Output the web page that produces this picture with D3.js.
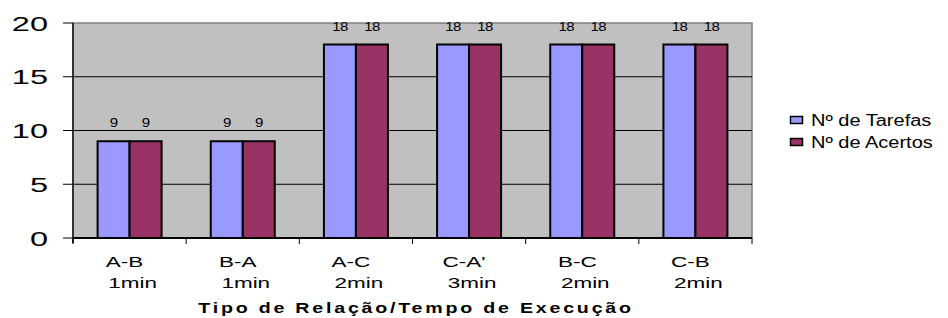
<!DOCTYPE html>
<html>
<head>
<meta charset="utf-8">
<script src="https://cdn.jsdelivr.net/npm/d3@7"></script>
<style>
  body { margin: 0; background: #fff; }
  svg { display: block; font-family: "Liberation Sans", Arial, sans-serif; }
</style>
</head>
<body>
<div class="canvas"></div>
<script>
var width = 948,
   height = 318;

// data
var categories = ['A-B|1min', 'B-A|1min', 'A-C|2min', "C-A'|3min", 'B-C|2min', 'C-B|2min'];
var tarefas = [9, 9, 18, 18, 18, 18];
var acertos = [9, 9, 18, 18, 18, 18];
var seriesNames = ['Nº de Tarefas', 'Nº de Acertos'];
var yTicks = [0, 5, 10, 15, 20];

var colors = ['#9999ff', '#993366'];

var plot = {left: 73, right: 752, top: 23, bottom: 238};

var svg = d3.select('.canvas')
   .append('svg')
   .attr('width', width)
   .attr('height', height);

var x = d3.scaleBand()
   .domain(categories)
   .range([plot.left, plot.right]);

var y = d3.scaleLinear()
   .domain([0, 20])
   .range([plot.bottom, plot.top]);

// the original picture is stretched sideways, so text is too
function stretch(sx) {
   return function (px, py) {
      return 'translate(' + px + ',' + py + ') scale(' + sx + ',1)';
   };
}

// background
svg.append('rect')
   .attr('x', plot.left)
   .attr('y', plot.top)
   .attr('width', plot.right - plot.left)
   .attr('height', plot.bottom - plot.top)
   .attr('fill', '#c0c0c0')
   .attr('stroke', '#808080')
   .attr('stroke-width', 1.5);

// gridlines
svg.append('g')
   .selectAll('line')
   .data(yTicks.filter(d => d > 0 && d < 20))
   .enter().append('line')
      .attr('x1', plot.left)
      .attr('x2', plot.right)
      .attr('y1', d => y(d))
      .attr('y2', d => y(d))
      .attr('stroke', '#000')
      .attr('stroke-width', 1);

// bars
var groupW = x.bandwidth();
var barW = 32;
var series = [tarefas, acertos];
var labelT = stretch(1.2);

series.forEach((vals, s) => {
   svg.append('g')
      .selectAll('rect')
      .data(vals)
      .enter().append('rect')
         .attr('x', (d, i) => x(categories[i]) + groupW / 2 - barW + s * barW)
         .attr('y', d => y(d))
         .attr('width', barW)
         .attr('height', d => plot.bottom - y(d))
         .attr('fill', colors[s])
         .attr('stroke', '#000')
         .attr('stroke-width', 2);

   svg.append('g')
      .selectAll('text')
      .data(vals)
      .enter().append('text')
         .attr('transform', (d, i) => labelT(x(categories[i]) + groupW / 2 - barW / 2 + s * barW, y(d) - 14))
         .attr('text-anchor', 'middle')
         .attr('font-size', 12.5)
         .attr('letter-spacing', -0.5)
         .text(d => d);
});

// y axis
svg.append('line')
   .attr('x1', plot.left)
   .attr('x2', plot.left)
   .attr('y1', plot.top)
   .attr('y2', plot.bottom + 5)
   .attr('stroke', '#333')
   .attr('stroke-width', 2);
svg.append('g')
   .selectAll('line')
   .data(yTicks)
   .enter().append('line')
      .attr('x1', plot.left - 10)
      .attr('x2', plot.left)
      .attr('y1', d => y(d))
      .attr('y2', d => y(d))
      .attr('stroke', '#000');
var yTickT = stretch(1.55);
svg.append('g')
   .selectAll('text')
   .data(yTicks)
   .enter().append('text')
      .attr('transform', d => yTickT(48, y(d) + 7.5))
      .attr('text-anchor', 'end')
      .attr('font-size', 21)
      .text(d => d);

// x axis
var bounds = d3.range(categories.length + 1).map(i => plot.left + i * groupW);
svg.append('line')
   .attr('x1', plot.left)
   .attr('x2', plot.right)
   .attr('y1', plot.bottom)
   .attr('y2', plot.bottom)
   .attr('stroke', '#000')
   .attr('stroke-width', 2);
svg.append('g')
   .selectAll('line')
   .data(bounds)
   .enter().append('line')
      .attr('x1', d => d)
      .attr('x2', d => d)
      .attr('y1', plot.bottom)
      .attr('y2', plot.bottom + 6)
      .attr('stroke', '#000');

var catT = stretch(1.5);
var catG = svg.append('g');
catG.selectAll('text.l1')
   .data(categories)
   .enter().append('text')
      .attr('class', 'l1')
      .attr('transform', d => catT(x(d) + groupW / 2 - 5, 267))
      .attr('text-anchor', 'middle')
      .attr('font-size', 15)
      .text(d => d.split('|')[0]);
catG.selectAll('text.l2')
   .data(categories)
   .enter().append('text')
      .attr('class', 'l2')
      .attr('transform', d => catT(x(d) + groupW / 2 + 3, 288))
      .attr('text-anchor', 'middle')
      .attr('font-size', 15)
      .text(d => d.split('|')[1]);

// axis title
svg.append('text')
   .attr('transform', stretch(1.4)(416, 313))
   .attr('text-anchor', 'middle')
   .attr('font-size', 14)
   .attr('font-weight', 'bold')
   .attr('letter-spacing', 2)
   .text('Tipo de Relação/Tempo de Execução');

// legend
var legT = stretch(1.25);
var legend = svg.append('g')
   .selectAll('g')
   .data(seriesNames)
   .enter().append('g')
      .attr('transform', (d, i) => 'translate(790,' + (120 + i * 22) + ')');
legend.append('rect')
   .attr('x', 0.5)
   .attr('y', -3.5)
   .attr('width', 12)
   .attr('height', 7)
   .attr('fill', (d, i) => colors[i])
   .attr('stroke', '#000')
   .attr('stroke-width', 1.5);
legend.append('text')
   .attr('transform', legT(21, 6))
   .attr('font-size', 16)
   .text(d => d);
</script>
</body>
</html>
